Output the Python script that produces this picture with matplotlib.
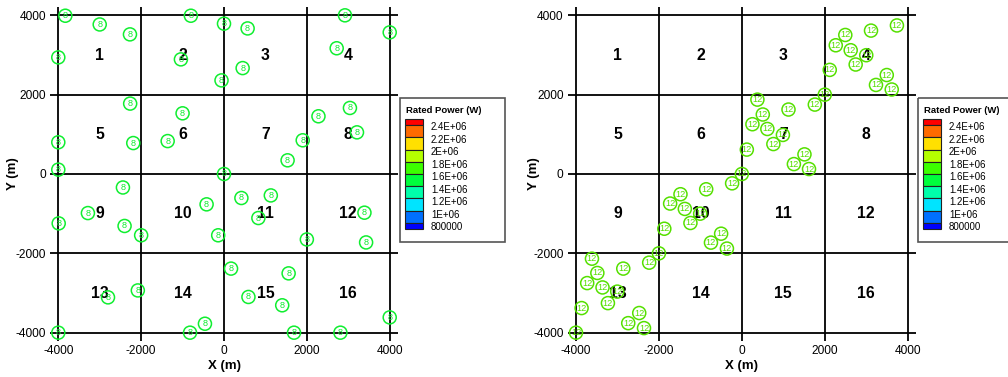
import matplotlib
matplotlib.use("Agg")
import matplotlib.pyplot as plt
from matplotlib.patches import Rectangle

plt.rcParams['font.family'] = ['Liberation Sans', 'DejaVu Sans']
plt.rcParams['axes.unicode_minus'] = False

# ---------------- data ----------------
left_x = [-3830, -3000, -2270, -4000, -800, 0, 570, -1040, 450, -60,
          2920, 4000, 2720, -2265, -1000, -4000, -2190, -1360, -4000, 0,
          3040, 2280, 3210, 1900, 1535, -2440, -420, 420, -3285, -3990,
          -2400, -2000, -140, 830, 170, -2080, -2800, 590, -4000, -460,
          -820, 1130, 3390, 2000, 3430, 1560, 1405, 1690, 2810, 4000]
left_y = [3990, 3770, 3520, 2940, 3990, 3790, 3670, 2890, 2670, 2360,
          4000, 3570, 3170, 1775, 1530, 800, 780, 830, 110, 0,
          1665, 1455, 1050, 850, 345, -340, -765, -605, -985, -1245,
          -1310, -1545, -1545, -1110, -2385, -2935, -3110, -3100, -4000, -3775,
          -4000, -540, -975, -1650, -1725, -2505, -3310, -4000, -4000, -3615]
left_label = "8"

right_x = [3740, 3115, 2495, 2265, 2625, 3000, 2745, 2120, 3495, 3235,
           3615, 2000, 1760, 1125, 375, 505, 255, 615, 990, 760,
           120, 1510, 1255, 1620, 0, -235, -860, -1480, -1730, -1375,
           -1005, -1240, -1870, -500, -745, -360, -2000, -2235, -3615, -2860,
           -3485, -3730, -3360, -3005, -3230, -3865, -2475, -2740, -2360, -4000]
right_y = [3745, 3615, 3505, 3245, 3120, 2995, 2760, 2625, 2495, 2245,
           2130, 2000, 1750, 1625, 1875, 1500, 1255, 1135, 985, 755,
           615, 495, 250, 125, 0, -235, -385, -510, -745, -880,
           -1000, -1235, -1380, -1505, -1730, -1880, -2000, -2235, -2135, -2385,
           -2495, -2750, -2860, -2965, -3255, -3380, -3505, -3760, -3885, -4000]
right_label = "12"

grid_vals = [-4000, -2000, 0, 2000, 4000]
region_x = [-3000, -1000, 1000, 3000]
region_y = [3000, 1000, -1000, -3000]
region_ids = list(range(1, 17))

legend_title = "Rated Power (W)"
legend_colors = ['#FF0000', '#FF6A00', '#FFE000', '#B4FF00', '#3CFF00',
                 '#00FF3C', '#00FFAA', '#00E4FF', '#0070FF', '#0000FF']
legend_labels = ['2.4E+06', '2.2E+06', '2E+06', '1.8E+06', '1.6E+06',
                 '1.4E+06', '1.2E+06', '1E+06', '800000']

W, H = 1008, 377
fig = plt.figure(figsize=(W / 100, H / 100), dpi=100)


def draw_panel(rect, xs, ys, label, color, ylab_x):
    ax = fig.add_axes(rect)
    ax.set_xlim(-4200, 4200)
    ax.set_ylim(-4200, 4200)
    for s in ax.spines.values():
        s.set_visible(False)
    for v in grid_vals:
        ax.axvline(v, color='black', lw=1.3, zorder=1)
        ax.axhline(v, color='black', lw=1.3, zorder=1)
    ax.set_xticks(grid_vals)
    ax.set_yticks(grid_vals)
    ax.tick_params(length=0, labelsize=8.6, pad=3)
    ax.set_xlabel('X (m)', fontsize=9.5, fontweight='bold')
    ax.set_ylabel('Y (m)', fontsize=9.5, fontweight='bold')
    ax.xaxis.set_label_coords(0.5, -0.058)
    ax.yaxis.set_label_coords(ylab_x, 0.5)
    k = 0
    for yy in region_y:
        for xx in region_x:
            ax.text(xx, yy, str(region_ids[k]), ha='center', va='center',
                    fontsize=11.3, fontweight='bold', color='black', zorder=2)
            k += 1
    ax.scatter(xs, ys, s=88, facecolors='none', edgecolors=color,
               linewidths=1.1, zorder=3, clip_on=False)
    for x, y in zip(xs, ys):
        ax.text(x, y, label, ha='center', va='center', fontsize=6.6,
                color=color, zorder=4, clip_on=False)
    return ax


def draw_legend(x0, y0):
    # x0, y0 : pixel location of top-left of the legend box
    w, h = 106, 145
    lax = fig.add_axes([x0 / W, (H - y0 - h) / H, w / W, h / H])
    lax.set_xlim(0, w)
    lax.set_ylim(h, 0)
    lax.axis('off')
    lax.add_patch(Rectangle((0.5, 0.5), w - 1, h - 1, fill=False,
                            edgecolor='#555555', lw=1.2, clip_on=False))
    lax.text(7.5, 13.5, legend_title, fontsize=6.8, fontweight='bold',
             ha='left', va='center', clip_on=False)
    top, unit = 22.0, 12.2
    n = len(legend_colors)
    y = top
    for i, c in enumerate(legend_colors):
        hh = unit / 2 if i in (0, n - 1) else unit
        lax.add_patch(Rectangle((5.5, y), 18.5, hh, facecolor=c,
                                edgecolor='#222222', lw=0.8))
        y += hh
    for i, lab in enumerate(legend_labels):
        lax.text(32, top + unit / 2 + i * unit + 2.0 + i * 0.3, lab, fontsize=7,
                 ha='left', va='center')


draw_panel([50 / W, 36.4 / H, 348 / W, 333.2 / H], left_x, left_y,
           left_label, '#10EE30', -0.089)
draw_panel([567.7 / W, 36.4 / H, 348.3 / W, 333.2 / H], right_x, right_y,
           right_label, '#55E000', -0.08)
draw_legend(399, 97)
draw_legend(917, 97)

fig.savefig('out.png', dpi=100)
